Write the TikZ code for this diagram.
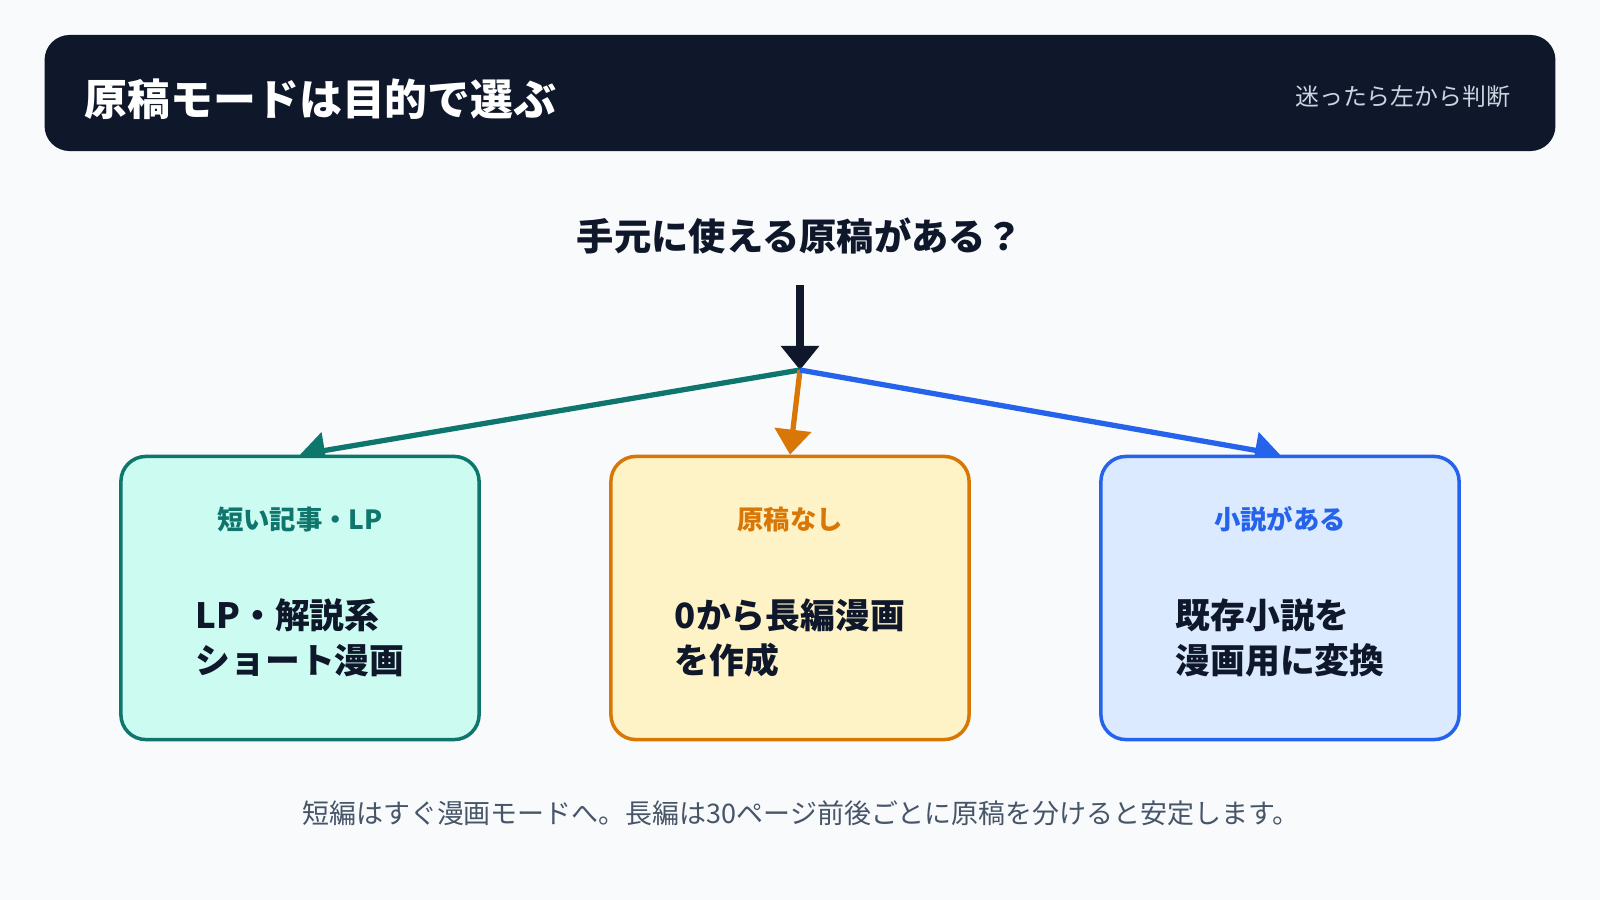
\documentclass[tikz,border=0pt]{standalone}
\usepackage{fontspec}
\setmainfont{Noto Sans CJK JP}
\usetikzlibrary{arrows.meta,positioning,backgrounds,calc}

\definecolor{bgcol}{HTML}{F8FAFC}
\definecolor{navy}{HTML}{0F172A}
\definecolor{subgray}{HTML}{CBD5E1}
\definecolor{notegray}{HTML}{475569}
\definecolor{shortline}{HTML}{0F766E}
\definecolor{shortfill}{HTML}{CCFBF1}
\definecolor{noneline}{HTML}{D97706}
\definecolor{nonefill}{HTML}{FEF3C7}
\definecolor{novelline}{HTML}{2563EB}
\definecolor{novelfill}{HTML}{DBEAFE}

\tikzstyle{header} = [fill=navy, rounded corners=0.25cm, minimum width=15.1cm, minimum height=1.16cm, anchor=center]
\tikzstyle{titletext} = [text=white, font=\fontsize{12.2pt}{14pt}\selectfont\bfseries, inner sep=0pt]
\tikzstyle{subtext} = [text=subgray, font=\fontsize{6.8pt}{8pt}\selectfont, inner sep=0pt]
\tikzstyle{question} = [text=navy, font=\fontsize{10.6pt}{12pt}\selectfont\bfseries]
\tikzstyle{choice} = [line width=1pt, rounded corners=0.25cm, minimum width=3.58cm, minimum height=2.83cm, anchor=center]
\tikzstyle{choicelabel} = [font=\fontsize{7.5pt}{9pt}\selectfont\bfseries]
\tikzstyle{choicetext} = [text=navy, align=left, font=\fontsize{9.9pt}{12.8pt}\selectfont\bfseries]
\tikzstyle{notetext} = [text=notegray, font=\fontsize{7.67pt}{9pt}\selectfont]
\tikzstyle{darkarrow} = [draw=navy, line width=2.3pt, -{Triangle[width=0.37cm, length=0.24cm]}]
\tikzstyle{colarrow} = [line width=1.5pt, -{Triangle[width=0.36cm, length=0.25cm]}]

\begin{document}
\begin{tikzpicture}[x=0.01cm, y=-0.01cm]
	\useasboundingbox (0,0) rectangle (1600,900);

	% header bar
	\node (head) [header] at (800,93) {};
	\node (title) [titletext, anchor=west] at ([xshift=0.4cm, yshift=-0.06cm]head.west) {原稿モードは目的で選ぶ};
	\node (hint) [subtext, anchor=east] at ([xshift=-0.45cm, yshift=-0.04cm]head.east) {迷ったら左から判断};

	\node (ask) [question] at (800,236) {手元に使える原稿がある？};
	\coordinate (askfoot) at (800,285);
	\coordinate (fork) at (800,370);

	% three choices
	\node (boxShort) [choice, draw=shortline, fill=shortfill] at (300,598) {};
	\node (boxNone)  [choice, draw=noneline, fill=nonefill] at (790,598) {};
	\node (boxNovel) [choice, draw=novelline, fill=novelfill] at (1280,598) {};

	\node (labShort) [choicelabel, text=shortline] at ([yshift=-0.65cm]boxShort.north) {短い記事・LP};
	\node (labNone)  [choicelabel, text=noneline] at ([yshift=-0.65cm]boxNone.north) {原稿なし};
	\node (labNovel) [choicelabel, text=novelline] at ([yshift=-0.65cm]boxNovel.north) {小説がある};

	\node (txtShort) [choicetext] at ([yshift=-1.83cm]boxShort.north) {LP・解説系\\ショート漫画};
	\node (txtNone)  [choicetext] at ([yshift=-1.83cm]boxNone.north) {0から長編漫画\\を作成};
	\node (txtNovel) [choicetext] at ([yshift=-1.83cm]boxNovel.north) {既存小説を\\漫画用に変換};

	\node (note) [notetext] at (801,813) {短編はすぐ漫画モードへ。長編は30ページ前後ごとに原稿を分けると安定します。};

	\begin{scope}[on background layer]
		\fill[bgcol] (0,0) rectangle (1600,900);
		\draw[darkarrow] (askfoot) -- (fork);
		\draw[colarrow, draw=shortline] (fork) -- (boxShort.north);
		\draw[colarrow, draw=noneline] (fork) -- (boxNone.north);
		\draw[colarrow, draw=novelline] (fork) -- (boxNovel.north);
	\end{scope}
\end{tikzpicture}
\end{document}
